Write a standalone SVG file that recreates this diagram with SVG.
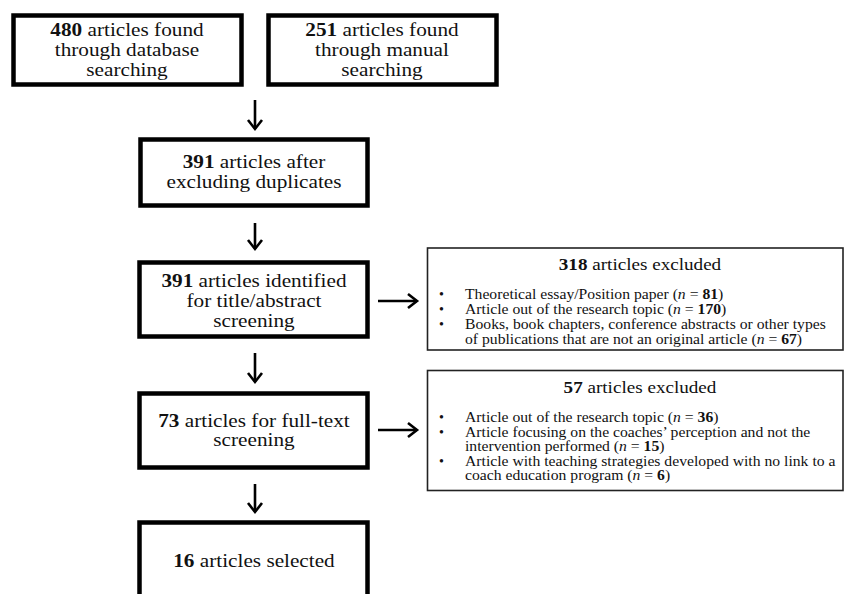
<svg xmlns="http://www.w3.org/2000/svg" width="845" height="594" viewBox="0 0 845 594">
<defs>
<style>
.box{fill:#fff;stroke:#000;stroke-width:4.5}
.ex{fill:#fff;stroke:#222;stroke-width:1.6}
.t{font-family:"Liberation Serif","Times New Roman",serif;font-size:18px;fill:#111;text-anchor:middle}
.h{font-family:"Liberation Serif","Times New Roman",serif;font-size:17px;fill:#111;text-anchor:middle}
.s{font-family:"Liberation Serif","Times New Roman",serif;font-size:14px;fill:#111}
.b{font-weight:bold}
.i{font-style:italic}
.c{fill:none;stroke:#000;stroke-width:2.6}
</style>
<marker id="ah" markerUnits="userSpaceOnUse" markerWidth="14" markerHeight="18" viewBox="0 0 14 18" refX="11" refY="9" orient="auto">
<path d="M2,2 L11,9 L2,16" fill="none" stroke="#000" stroke-width="2.6"/>
</marker>
</defs>
<g id="connectors">
<path class="c" d="M255,100 V129" marker-end="url(#ah)"/>
<path class="c" d="M255,223 V249" marker-end="url(#ah)"/>
<path class="c" d="M255,353 V382" marker-end="url(#ah)"/>
<path class="c" d="M255,484 V512" marker-end="url(#ah)"/>
<path class="c" d="M378,301 H417" marker-end="url(#ah)"/>
<path class="c" d="M378,430 H417" marker-end="url(#ah)"/>
</g>
<g id="n1">
<rect class="box" x="13.5" y="15.5" width="228" height="69"/>
<g transform="matrix(1.18,0,0,1,-22.86,0)">
<text class="t" x="127" y="36"><tspan class="b">480</tspan> articles found</text>
<text class="t" x="127" y="56">through database</text>
<text class="t" x="127" y="76">searching</text>
</g>
</g>
<g id="n2">
<rect class="box" x="268.5" y="15.5" width="228" height="69"/>
<g transform="matrix(1.18,0,0,1,-68.76,0)">
<text class="t" x="382" y="36"><tspan class="b">251</tspan> articles found</text>
<text class="t" x="382" y="56">through manual</text>
<text class="t" x="382" y="76">searching</text>
</g>
</g>
<g id="n3">
<rect class="box" x="140.5" y="139.5" width="227" height="66"/>
<g transform="matrix(1.18,0,0,1,-45.72,0)">
<text class="t" x="254" y="168"><tspan class="b">391</tspan> articles after</text>
<text class="t" x="254" y="188">excluding duplicates</text>
</g>
</g>
<g id="n4">
<rect class="box" x="139.5" y="262.5" width="228" height="74"/>
<g transform="matrix(1.18,0,0,1,-45.72,0)">
<text class="t" x="254" y="287"><tspan class="b">391</tspan> articles identified</text>
<text class="t" x="254" y="307">for title/abstract</text>
<text class="t" x="254" y="327">screening</text>
</g>
</g>
<g id="n5">
<rect class="box" x="139.5" y="393.5" width="228" height="74"/>
<g transform="matrix(1.18,0,0,1,-45.72,0)">
<text class="t" x="254" y="427"><tspan class="b">73</tspan> articles for full-text</text>
<text class="t" x="254" y="446">screening</text>
</g>
</g>
<g id="n6">
<rect class="box" x="139.5" y="522.5" width="228" height="80"/>
<g transform="matrix(1.18,0,0,1,-45.72,0)">
<text class="t" x="254" y="567"><tspan class="b">16</tspan> articles selected</text>
</g>
</g>
<g id="x1">
<rect class="ex" x="427.5" y="248" width="415.5" height="102"/>
<text class="h" x="640" y="270" transform="matrix(1.125,0,0,1,-80,0)"><tspan class="b">318</tspan> articles excluded</text>
<text class="s" x="439" y="299">•</text>
<text class="s" x="439" y="314">•</text>
<text class="s" x="439" y="329">•</text>
<g transform="matrix(1.12,0,0,1,-55.8,0)">
<text class="s" x="465" y="299">Theoretical essay/Position paper (<tspan class="i">n</tspan> = <tspan class="b">81</tspan>)</text>
<text class="s" x="465" y="314">Article  out of the research topic (<tspan class="i">n</tspan> = <tspan class="b">170</tspan>)</text>
<text class="s" x="465" y="329">Books, book chapters, conference abstracts or other types</text>
<text class="s" x="465" y="344">of publications that are not an original article (<tspan class="i">n</tspan> = <tspan class="b">67</tspan>)</text>
</g>
</g>
<g id="x2">
<rect class="ex" x="427.5" y="370.5" width="415.5" height="120"/>
<text class="h" x="640" y="393" transform="matrix(1.125,0,0,1,-80,0)"><tspan class="b">57</tspan> articles excluded</text>
<text class="s" x="439" y="422">•</text>
<text class="s" x="439" y="437">•</text>
<text class="s" x="439" y="466">•</text>
<g transform="matrix(1.12,0,0,1,-55.8,0)">
<text class="s" x="465" y="422">Article  out of the research topic (<tspan class="i">n</tspan> = <tspan class="b">36</tspan>)</text>
<text class="s" x="465" y="437">Article  focusing on the coaches’ perception and not the</text>
<text class="s" x="465" y="451">intervention performed (<tspan class="i">n</tspan> = <tspan class="b">15</tspan>)</text>
<text class="s" x="465" y="466">Article with teaching strategies developed with no link to a</text>
<text class="s" x="465" y="480">coach education program (<tspan class="i">n</tspan> = <tspan class="b">6</tspan>)</text>
</g>
</g>
</svg>
